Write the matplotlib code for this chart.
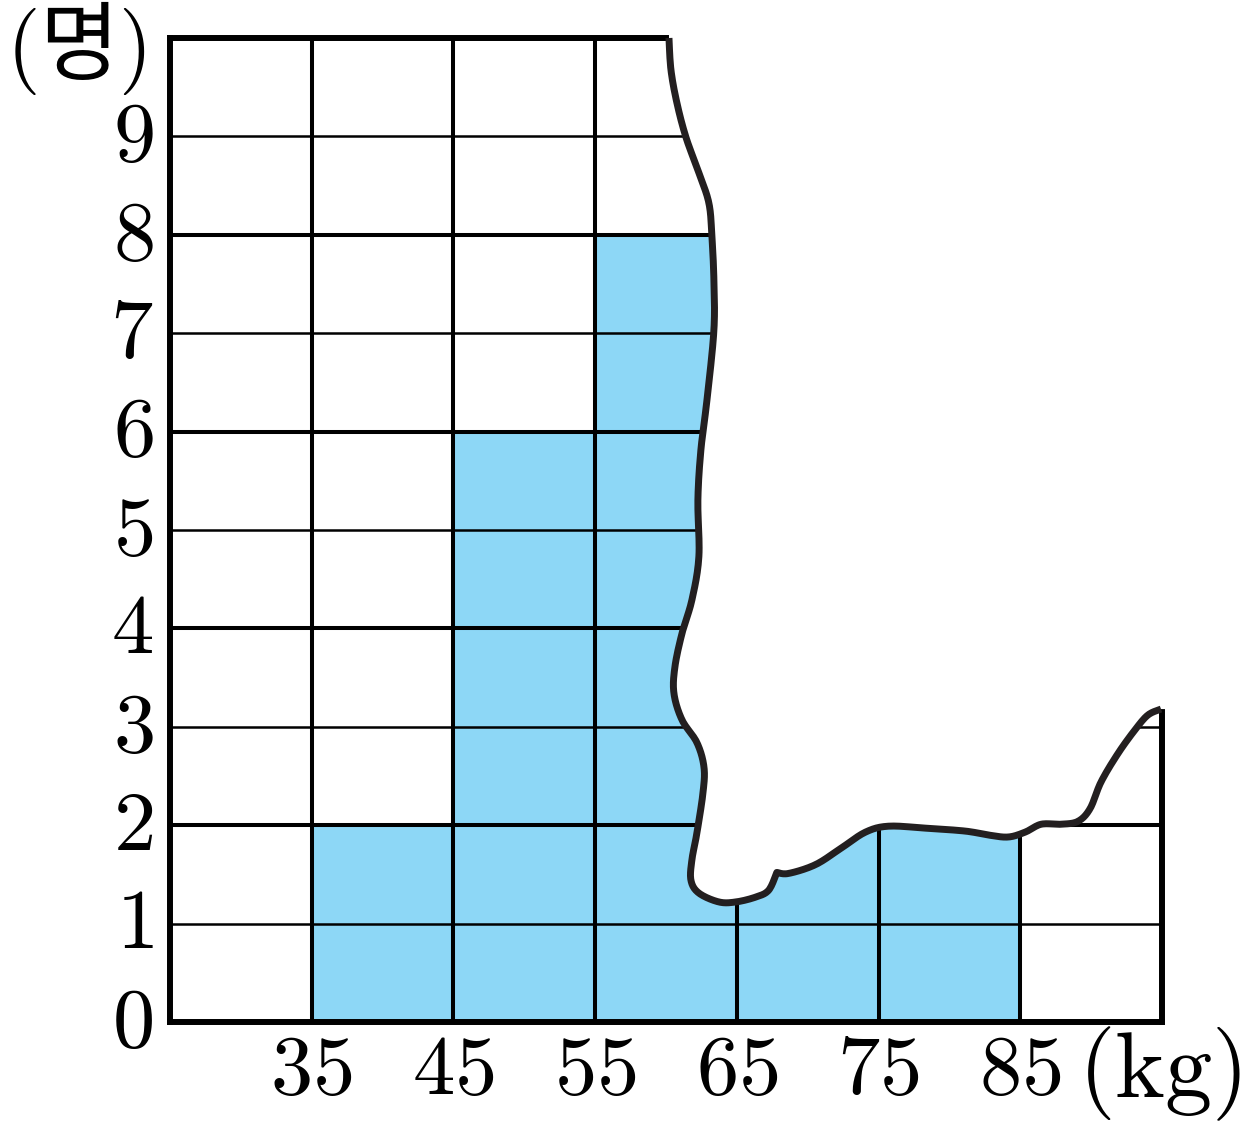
import numpy as np
import matplotlib
matplotlib.use('Agg')
import matplotlib.pyplot as plt
from matplotlib.patches import Polygon
import matplotlib.transforms as mtransforms

plt.rcParams['mathtext.fontset'] = 'cm'
plt.rcParams['font.family'] = ['Noto Sans CJK KR', 'DejaVu Sans']

# ---- data ----
class_edges = [25, 35, 45, 55, 65, 75, 85, 95]
counts = [0, 2, 6, 8, 4, 4, 0]          # 65-75 and 75-85 are hidden under the torn part
y_tick_values = [0, 1, 2, 3, 4, 5, 6, 7, 8, 9]
x_tick_values = [35, 45, 55, 65, 75, 85]
x_tick_labels = ['35', '45', '55', '65', '75', '85']
y_unit = '명'
x_unit = 'kg'

# torn-edge outline (data units), from top to right edge
tear_x = [60.21, 60.35, 60.77, 61.41, 62.32, 63.03, 63.24, 63.38, 63.38, 62.89,
          62.46, 62.25, 62.32, 61.83, 61.13, 60.63, 60.56, 61.13, 62.18, 62.68,
          62.61, 62.18, 61.83, 61.76, 62.32, 63.73, 64.93, 66.34, 67.25, 67.82,
          68.66, 70.56, 72.39, 74.08, 75.70, 78.31, 81.13, 82.75, 84.15, 85.35,
          86.48, 87.89, 89.08, 89.93, 90.70, 91.90, 93.10, 94.01, 94.93]
tear_y = [10.0, 9.675, 9.34, 8.99, 8.63, 8.32, 7.98, 7.54, 7.03, 6.32,
          5.81, 5.30, 4.73, 4.29, 3.95, 3.61, 3.34, 3.07, 2.84, 2.59,
          2.33, 1.92, 1.65, 1.44, 1.31, 1.22, 1.22, 1.27, 1.34, 1.52,
          1.51, 1.60, 1.77, 1.93, 1.99, 1.97, 1.94, 1.90, 1.88, 1.93,
          2.01, 2.01, 2.04, 2.17, 2.44, 2.73, 2.97, 3.12, 3.18]
cusp_index = 29


def catmull(xs, ys, n=12):
    P = np.column_stack([xs, ys])
    P = np.vstack([P[0], P, P[-1]])
    out = []
    for i in range(1, len(P) - 2):
        p0, p1, p2, p3 = P[i - 1], P[i], P[i + 1], P[i + 2]
        t = np.linspace(0, 1, n, endpoint=False)[:, None]
        seg = 0.5 * ((2 * p1) + (-p0 + p2) * t + (2 * p0 - 5 * p1 + 4 * p2 - p3) * t ** 2
                     + (-p0 + 3 * p1 - 3 * p2 + p3) * t ** 3)
        out.append(seg)
    out.append(P[-2][None, :])
    return np.vstack(out)


c1 = catmull(tear_x[:cusp_index + 1], tear_y[:cusp_index + 1])
c2 = catmull(tear_x[cusp_index:], tear_y[cusp_index:])
curve = np.vstack([c1, c2])

W, H = 1245, 1133
fig = plt.figure(figsize=(W / 100, H / 100), dpi=100)
ax = fig.add_axes([170 / W, 1 - 1022 / H, 992 / W, 984 / H])
ax.set_xlim(class_edges[0], class_edges[-1])
ax.set_ylim(0, 10)

blue = '#8DD7F6'
widths = np.diff(class_edges)
ax.bar(class_edges[:-1], counts, width=widths, align='edge', color=blue,
       edgecolor='none', zorder=1)

# grid
for x in class_edges[1:-1]:
    ax.plot([x, x], [0, 10], color='black', lw=2.9, zorder=2, solid_capstyle='butt')
for y in range(1, 10):
    ax.plot([class_edges[0], class_edges[-1]], [y, y], color='black',
            lw=2.9 if y % 2 == 0 else 1.8, zorder=2, solid_capstyle='butt')
# top & right frame (partly torn away)
ax.plot([class_edges[0], class_edges[-1]], [10, 10], color='black', lw=4.3,
        zorder=2, clip_on=False, solid_capstyle='projecting')
ax.plot([class_edges[-1], class_edges[-1]], [0, 10], color='black', lw=4.3,
        zorder=2, clip_on=False, solid_capstyle='projecting')

# mask torn region
mask_pts = np.vstack([curve, [[97.5, curve[-1, 1]], [97.5, 10.8], [curve[0, 0], 10.8]]])
ax.add_patch(Polygon(mask_pts, closed=True, facecolor='white', edgecolor='none',
                     zorder=3, clip_on=False))
ax.plot(curve[:, 0], curve[:, 1], color='#231f20', lw=5.0, zorder=4,
        clip_on=False, solid_capstyle='butt', solid_joinstyle='round')

# left & bottom frame
ax.plot([class_edges[0], class_edges[0]], [0, 10], color='black', lw=4.3,
        zorder=5, clip_on=False, solid_capstyle='projecting')
ax.plot([class_edges[0], class_edges[-1]], [0, 0], color='black', lw=4.3,
        zorder=5, clip_on=False, solid_capstyle='projecting')

for s in ax.spines.values():
    s.set_visible(False)

ax.set_xticks(x_tick_values)
ax.set_xticklabels(['$' + t + '$' for t in x_tick_labels], fontsize=61)
ax.set_yticks(y_tick_values)
ax.set_yticklabels(['$%d$' % v for v in y_tick_values], fontsize=61)
ax.tick_params(axis='both', length=0)
ax.tick_params(axis='x', pad=3)
ax.tick_params(axis='y', pad=12)
up = mtransforms.ScaledTranslation(0, 9 / 100, fig.dpi_scale_trans)
for lab in ax.get_yticklabels():
    lab.set_transform(lab.get_transform() + up)

fig.text(6 / W, 1 - 48 / H, '$($' + y_unit + '$)$', fontsize=62,
         ha='left', va='center')
fig.text(1078 / W, 1 - 1074 / H, r'$(\mathrm{' + x_unit + '})$', fontsize=68,
         ha='left', va='center')

fig.savefig('out.png', dpi=100)
